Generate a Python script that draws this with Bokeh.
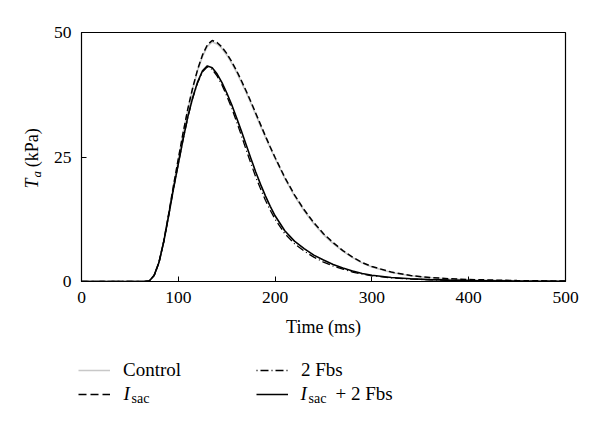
import numpy as np
from bokeh.plotting import figure
from bokeh.layouts import column, row
from bokeh.models import Range1d, FixedTicker, Legend, LegendItem, Label
from bokeh.embed import file_html
from bokeh.resources import INLINE

# --- data ---
time_ms = [0, 65, 70, 75, 80, 85, 90, 95, 100, 105, 110, 115, 120, 125, 130, 135,
           140, 145, 150, 155, 160, 165, 170, 175, 180, 185, 190, 195, 200, 210,
           220, 230, 240, 250, 260, 270, 280, 290, 300, 320, 340, 360, 380, 400,
           450, 500]
control = [0, 0, 0.1, 1.2, 3.8, 8.1, 13.5, 19.2, 24.5, 29.8, 34.6, 38.8, 42.4, 45.2,
           47.2, 48.1, 47.7, 46.8, 45.5, 43.9, 42.1, 40.1, 38.0, 35.8, 33.5, 31.2,
           29.0, 26.8, 24.7, 20.7, 17.2, 14.2, 11.6, 9.4, 7.6, 6.1, 4.8, 3.7, 2.9,
           1.8, 1.15, 0.75, 0.5, 0.36, 0.16, 0.07]
i_sac = [0, 0, 0.1, 1.2, 3.8, 8.1, 13.5, 19.2, 24.6, 29.9, 34.8, 39.0, 42.6, 45.5,
         47.5, 48.4, 48.0, 47.1, 45.8, 44.2, 42.4, 40.4, 38.3, 36.1, 33.8, 31.5,
         29.2, 27.0, 24.9, 20.9, 17.4, 14.4, 11.8, 9.6, 7.8, 6.2, 4.9, 3.8, 3.0,
         1.9, 1.2, 0.8, 0.55, 0.4, 0.18, 0.08]
fbs2 = [0, 0, 0.1, 1.2, 3.8, 8.0, 13.2, 18.6, 23.6, 28.6, 33.1, 36.9, 39.9, 42.1,
        43.1, 42.6, 41.3, 39.5, 37.3, 34.9, 32.2, 29.4, 26.5, 23.7, 21.0, 18.6,
        16.3, 14.3, 12.5, 9.6, 7.6, 6.1, 4.9, 3.9, 3.1, 2.5, 1.9, 1.5, 1.15,
        0.72, 0.5, 0.34, 0.24, 0.18, 0.08, 0.03]
i_sac_fbs2 = [0, 0, 0.1, 1.2, 3.8, 8.0, 13.2, 18.6, 23.6, 28.6, 33.2, 37.0, 40.1,
              42.3, 43.3, 42.9, 41.7, 40.0, 37.9, 35.6, 33.0, 30.3, 27.5, 24.7,
              22.0, 19.5, 17.2, 15.1, 13.2, 10.2, 8.1, 6.6, 5.3, 4.3, 3.4, 2.7,
              2.1, 1.6, 1.25, 0.8, 0.55, 0.38, 0.27, 0.2, 0.09, 0.04]
x_ticks = [0, 100, 200, 300, 400, 500]
y_ticks = [0, 25, 50]

FONT = "Liberation Serif"


def blank_fig(w, h, yr):
    f = figure(width=w, height=h, output_backend="svg", toolbar_location=None,
               x_range=Range1d(0, w), y_range=yr,
               x_axis_location=None, y_axis_location=None,
               min_border=0, min_border_left=0, min_border_right=0,
               min_border_top=0, min_border_bottom=0)
    f.outline_line_color = None
    f.grid.visible = False
    f.background_fill_color = "white"
    f.border_fill_color = "white"
    return f


def lab(f, x, y, text, size, style="normal", angle=0):
    f.add_layout(Label(x=x, y=y, text=text, text_font=FONT,
                       text_font_size=size, text_font_style=style,
                       text_color="black", text_baseline="alphabetic",
                       text_align="left", angle=angle))


# ---------------- main plot ----------------
p = figure(width=542, height=340, output_backend="svg", toolbar_location=None,
           x_range=Range1d(0, 500), y_range=Range1d(0, 50),
           min_border_left=29, min_border_right=27, min_border_top=32,
           min_border_bottom=59)
p.background_fill_color = "white"
p.border_fill_color = "white"
p.outline_line_color = "black"
p.outline_line_width = 1.2
p.grid.visible = False

for ax in (p.xaxis[0], p.yaxis[0]):
    ax.major_tick_in = 5
    ax.major_tick_out = 0
    ax.minor_tick_line_color = None
    ax.axis_line_color = "black"
    ax.major_tick_line_color = "black"
    ax.major_label_text_font = FONT
    ax.major_label_text_font_size = "17.5px"
    ax.major_label_text_color = "black"

p.xaxis.ticker = FixedTicker(ticks=x_ticks)
p.yaxis.ticker = FixedTicker(ticks=y_ticks)
p.xaxis.major_label_standoff = 10
p.yaxis.major_label_standoff = 10
p.xaxis.axis_label = "Time (ms)"
p.xaxis.axis_label_text_font = FONT
p.xaxis.axis_label_text_font_style = "normal"
p.xaxis.axis_label_text_font_size = "18px"
p.xaxis.axis_label_text_color = "black"
p.xaxis.axis_label_standoff = 11

p.line(time_ms, control, line_color="#c8c8c8", line_width=1.6)
p.line(time_ms, i_sac, line_color="black", line_width=1.5, line_dash="6 3")
p.line(time_ms, fbs2, line_color="black", line_width=1.3, line_dash="8 3 1 3")
p.line(time_ms, i_sac_fbs2, line_color="black", line_width=1.6)

# ---------------- y-axis label panel ----------------
yl = blank_fig(50, 340, Range1d(0, 340))
lab(yl, 31, 127, "T", "18px", "italic", np.pi / 2)
lab(yl, 36, 142, "a", "13px", "italic", np.pi / 2)
lab(yl, 31, 156, "(kPa)", "18px", "normal", np.pi / 2)

# ---------------- legend panel ----------------
lf = blank_fig(592, 84, Range1d(84, 0))
nan = [float("nan")]
g_control = lf.line(x=nan, y=nan, line_color="#c8c8c8", line_width=1.6)
g_isac = lf.line(x=nan, y=nan, line_color="black", line_width=1.5, line_dash="8 4")
g_fbs = lf.line(x=nan, y=nan, line_color="black", line_width=1.3,
                line_dash="1 3 8 3")
g_both = lf.line(x=nan, y=nan, line_color="black", line_width=1.6)


def make_legend(items, loc):
    return Legend(items=items, location=loc, orientation="vertical",
                  glyph_width=32, glyph_height=20, label_height=20,
                  label_standoff=13, spacing=3, padding=0, margin=0,
                  border_line_color=None, background_fill_alpha=0,
                  label_text_font=FONT, label_text_font_size="19px",
                  label_text_color="black")


lf.add_layout(make_legend([LegendItem(label="Control", renderers=[g_control]),
                           LegendItem(label=" ", renderers=[g_isac])], (78, 20)),
              "center")
lf.add_layout(make_legend([LegendItem(label="2 Fbs", renderers=[g_fbs]),
                           LegendItem(label=" ", renderers=[g_both])], (256, 20)),
              "center")

lab(lf, 123, 53, "I", "19px", "italic")
lab(lf, 131, 58, "sac", "14px")
lab(lf, 300, 53, "I", "19px", "italic")
lab(lf, 308, 58, "sac", "14px")
lab(lf, 335, 53, "+ 2 Fbs", "19px")

layout = column(row(yl, p, spacing=0), lf, spacing=0)

open("out.html", "w").write(file_html(layout, INLINE))
